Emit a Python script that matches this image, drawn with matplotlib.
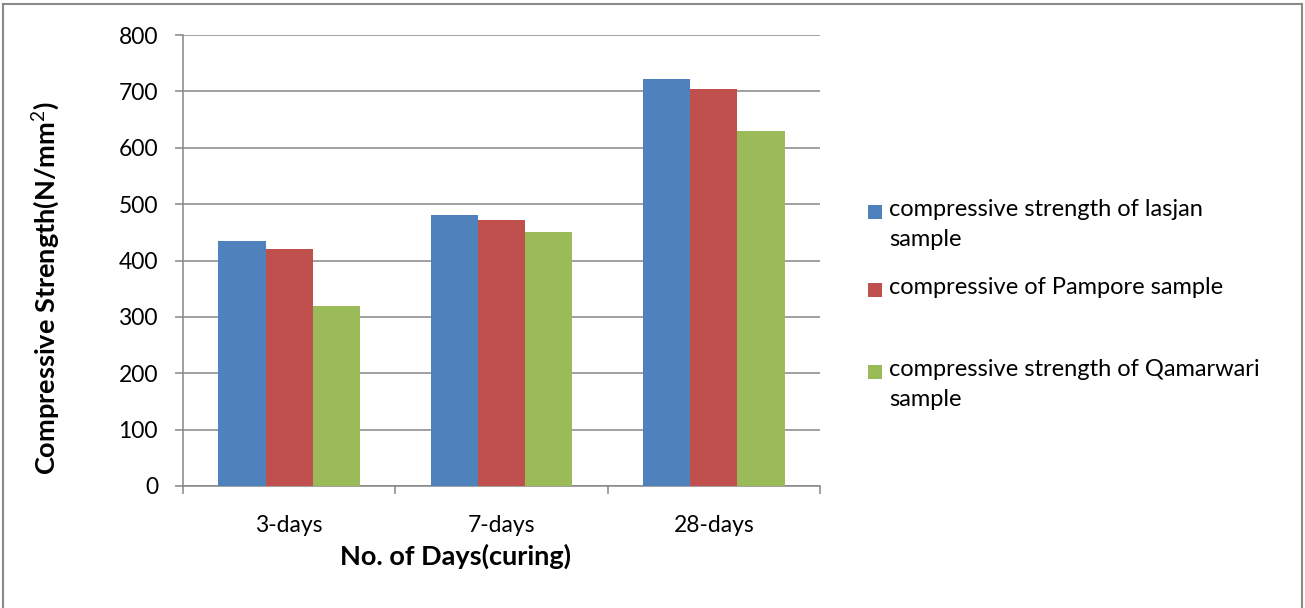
import matplotlib
matplotlib.use("Agg")
import matplotlib.pyplot as plt
from matplotlib.patches import Rectangle
from matplotlib.lines import Line2D
import numpy as np

categories = ["3-days", "7-days", "28-days"]
series_names = ["compressive strength of lasjan\nsample",
                "compressive of Pampore sample",
                "compressive strength of Qamarwari\nsample"]
lasjan = [435, 480, 722]
pampore = [420, 472, 705]
qamarwari = [320, 450, 630]
colors = ["#4F81BD", "#C0504D", "#9BBB59"]
yticks = [0, 100, 200, 300, 400, 500, 600, 700, 800]

plt.rcParams['font.family'] = ['Lato', 'DejaVu Sans']
plt.rcParams['mathtext.fontset'] = 'custom'
plt.rcParams['mathtext.bf'] = 'Lato:bold'
plt.rcParams['mathtext.rm'] = 'Lato'
W, H = 1305, 608
fig = plt.figure(figsize=(W / 100, H / 100), dpi=100)
ax = fig.add_axes([183 / W, 1 - 486 / H, (820 - 183) / W, (486 - 35) / H])

grey = "#868686"
x = np.arange(len(categories))
bw = 1 / 4.5
for i, (vals, c) in enumerate(zip([lasjan, pampore, qamarwari], colors)):
    ax.bar(x + (i - 1) * bw, vals, width=bw, color=c, edgecolor="none", zorder=3)

ax.set_xlim(-0.5, len(categories) - 0.5)
ax.set_ylim(0, 800)
ax.set_yticks(yticks)
ax.set_yticklabels([str(v) for v in yticks], fontsize=16.5)
ax.yaxis.grid(True, color=grey, linewidth=1.1, zorder=0)
ax.set_axisbelow(True)
ax.set_xticks(x)
ax.set_xticklabels(categories, fontsize=16.5)
ax.set_xticks(np.arange(len(categories) + 1) - 0.5, minor=True)
ax.tick_params(axis='x', which='major', length=0, pad=21)
ax.tick_params(axis='x', which='minor', length=6, color=grey, width=1.1, direction='out')
ax.tick_params(axis='y', length=6, color=grey, width=1.1, direction='out', pad=12)
for s in ["top", "right"]:
    ax.spines[s].set_visible(False)
for s in ["left", "bottom"]:
    ax.spines[s].set_color(grey)
    ax.spines[s].set_linewidth(1.1)

fig.text(45 / W, 1 - 288 / H, "Compressive Strength(N/mm$^{2}$)", rotation=90,
         fontsize=19.5, fontweight="bold", ha="center", va="center")
fig.text(456 / W, 1 - 556 / H, "No. of Days(curing)", fontsize=19.5,
         fontweight="bold", ha="center", va="center")

# legend
entry_y = [212, 290, 372]
for name, c, yy in zip(series_names, colors, entry_y):
    fig.patches.append(Rectangle((868 / W, 1 - (yy + 7) / H), 14 / W, 14 / H,
                                 transform=fig.transFigure, facecolor=c, edgecolor="none"))
    fig.text(889 / W, 1 - (yy - 13) / H, name, fontsize=17, ha="left", va="top",
             linespacing=1.55)

# outer frame
for xs, ys in [((3, 1302), (4, 4)), ((3, 3), (4, 608)), ((1302, 1302), (4, 608))]:
    fig.add_artist(Line2D([v / W for v in xs], [1 - v / H for v in ys],
                          transform=fig.transFigure, color="#8a8a8a", linewidth=1.5))

fig.savefig("out.png", dpi=100)
